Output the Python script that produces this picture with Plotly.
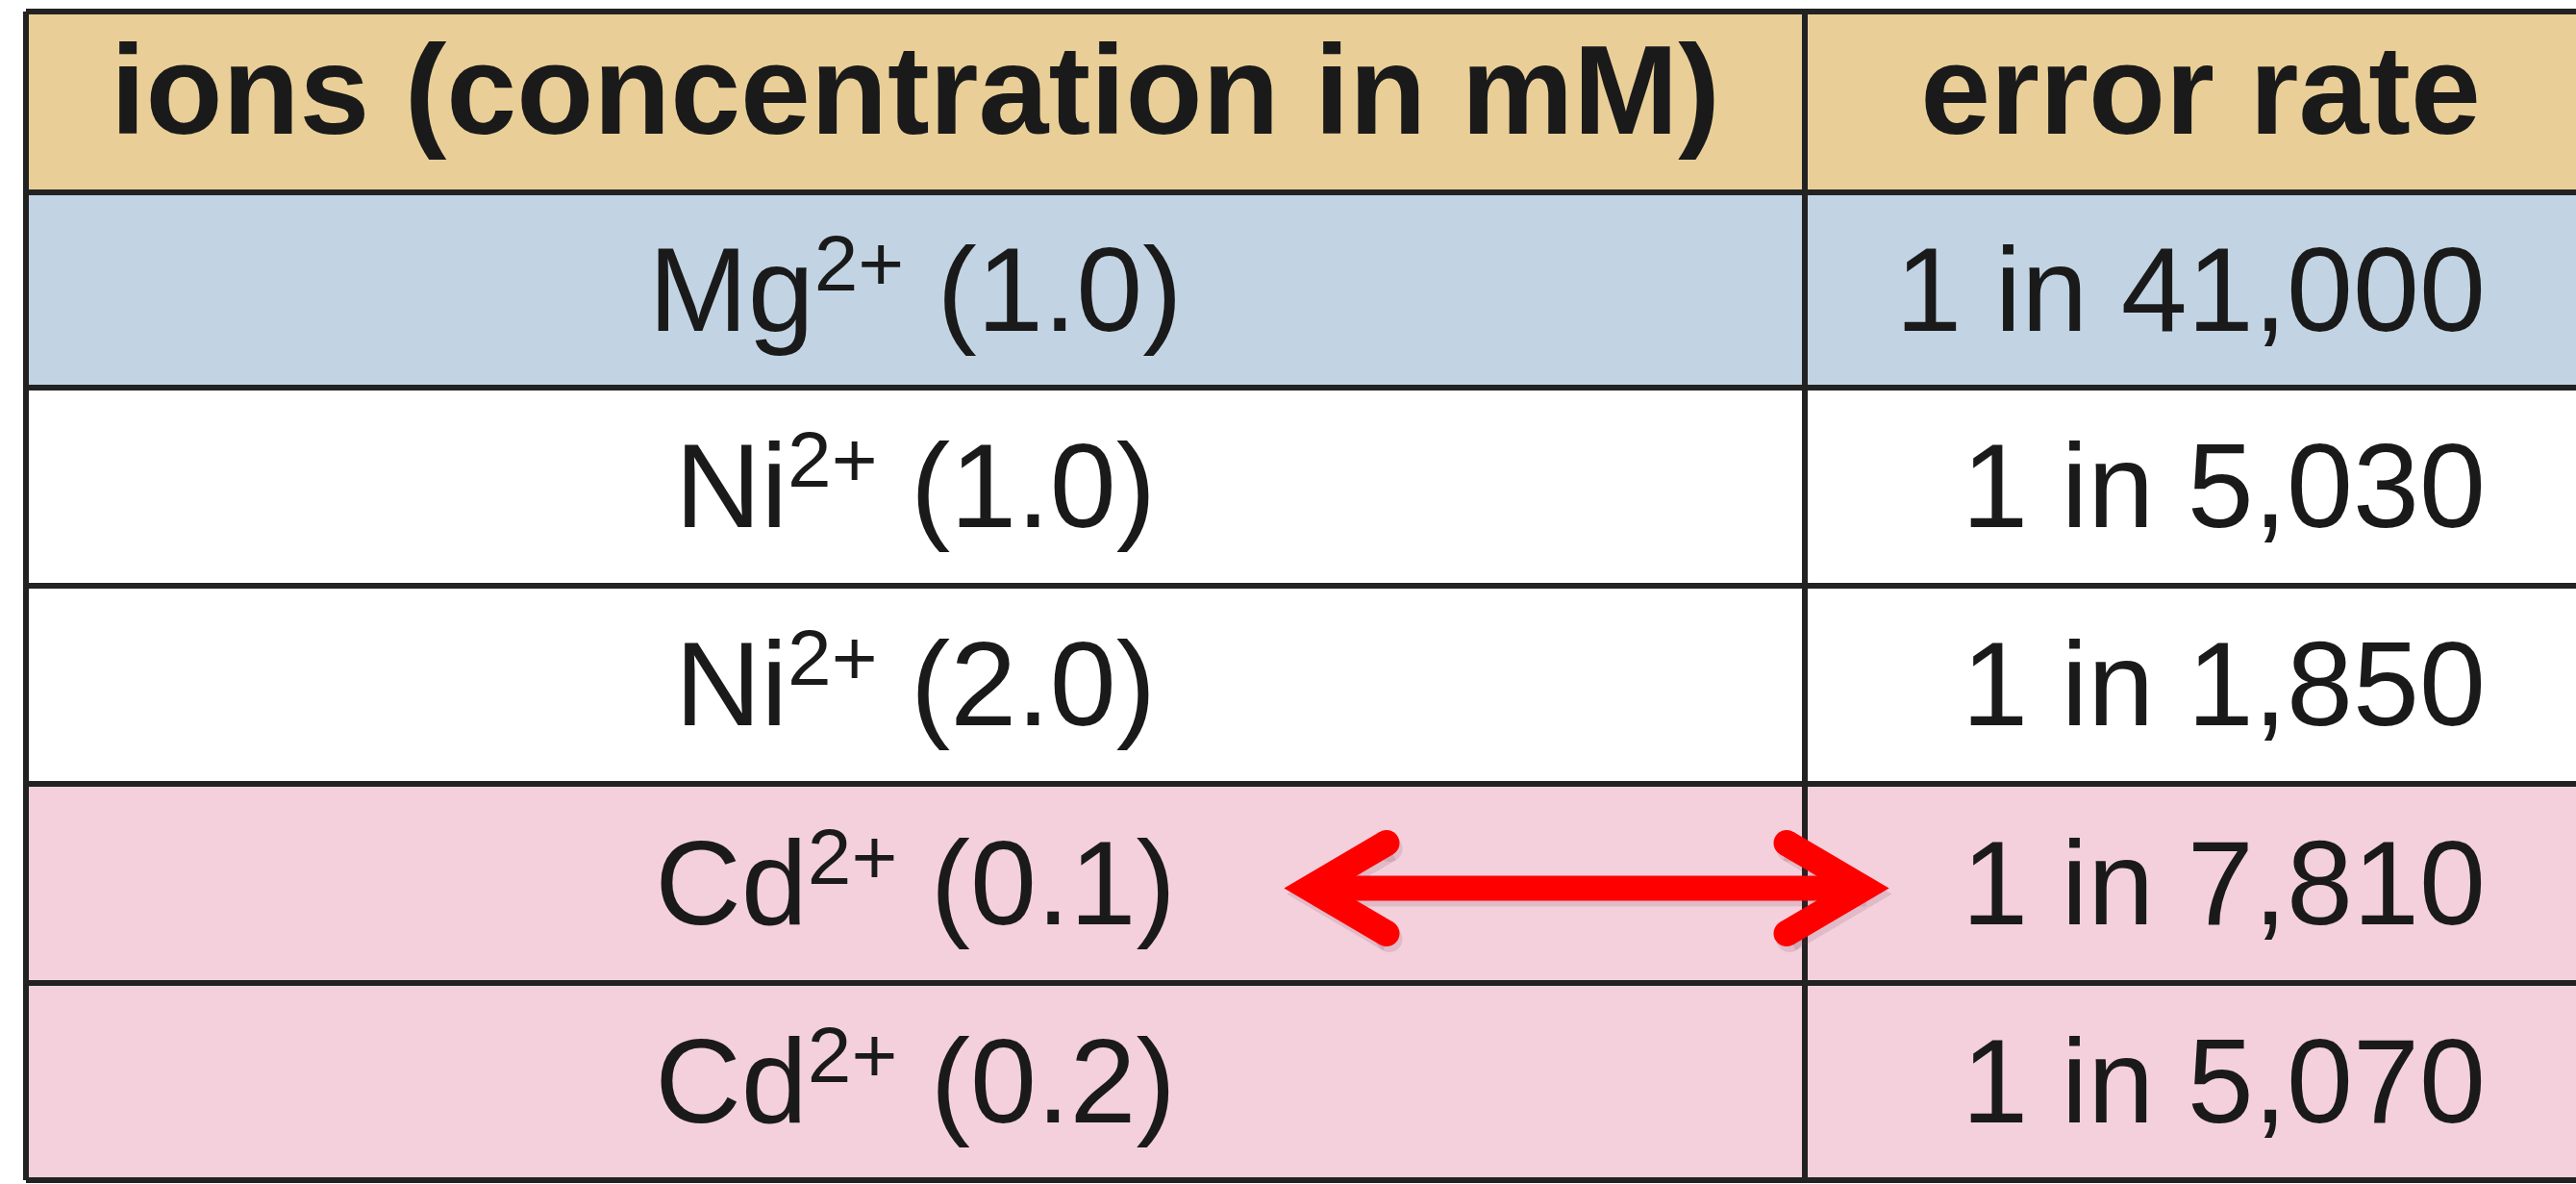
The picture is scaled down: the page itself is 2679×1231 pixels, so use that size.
import plotly.graph_objects as go

# ---------------- data ----------------
header_labels = ["ions (concentration in mM)", "error rate"]
ions = ["Mg", "Ni", "Ni", "Cd", "Cd"]
charges = ["2+", "2+", "2+", "2+", "2+"]
concentrations_mM = ["1.0", "1.0", "2.0", "0.1", "0.2"]
error_one_in = [41000, 5030, 1850, 7810, 5070]
row_groups = ["Mg", "Ni", "Ni", "Cd", "Cd"]
highlight_row = 3  # Cd2+ (0.1) row carries the double arrow

# ---------------- styling / layout constants ----------------
W, H = 2679, 1231
FONT = "Liberation Sans, Arial, Helvetica, sans-serif"
TEXT_COLOR = "#1a1a1a"
LINE_COLOR = "#222222"
LINE_W = 6
HEADER_FILL = "#E9CF97"
GROUP_FILL = {"Mg": "#C2D4E3", "Ni": "#FFFFFF", "Cd": "#F4D0DC"}
ARROW_RED = "#FF0000"

TABLE_LEFT, TABLE_TOP = 27, 12
COL_WIDTHS = [1850, 823]
HEADER_H = 188
ROW_HEIGHTS = [203, 206, 206, 207, 205]
HEADER_TEXT_SHIFT = 0
BODY_TEXT_SHIFT = 11
RIGHT_PAD = 115
HEADER_SIZE = 131
BODY_SIZE = 124
SUP_SIZE = 82
SUP_RISE = 42

# ---------------- derived geometry ----------------
x_edges = [TABLE_LEFT]
for w in COL_WIDTHS:
    x_edges.append(x_edges[-1] + w)
y_edges = [TABLE_TOP, TABLE_TOP + HEADER_H]
for h in ROW_HEIGHTS:
    y_edges.append(y_edges[-1] + h)

col_centers = [(x_edges[i] + x_edges[i + 1]) / 2 for i in range(2)]
row_centers = [(y_edges[i] + y_edges[i + 1]) / 2 for i in range(len(y_edges) - 1)]

# fill categories
palette = [HEADER_FILL, GROUP_FILL["Mg"], GROUP_FILL["Ni"], GROUP_FILL["Cd"]]
cat_index = {"header": 0, "Mg": 1, "Ni": 2, "Cd": 3}
z = [[cat_index["header"]] * 2] + [[cat_index[g]] * 2 for g in row_groups]
n = len(palette) - 1
colorscale = [[i / n, c] for i, c in enumerate(palette)]

fig = go.Figure()

fig.add_trace(go.Heatmap(
    z=z, x=x_edges, y=y_edges, zmin=0, zmax=n,
    colorscale=colorscale, showscale=False, hoverinfo="skip",
))

sup_style = f"font-size:{SUP_SIZE}px;baseline-shift:{SUP_RISE}px"
ion_labels = [f"{ion}<span style=\"{sup_style}\">{ch}</span> ({c})"
              for ion, ch, c in zip(ions, charges, concentrations_mM)]
rate_labels = [f"1 in {v:,}" for v in error_one_in]
body_y = [y + BODY_TEXT_SHIFT for y in row_centers[1:]]

# header text
fig.add_trace(go.Scatter(
    x=col_centers, y=[row_centers[0] + HEADER_TEXT_SHIFT] * 2,
    mode="text", text=[f"<b>{t}</b>" for t in header_labels],
    textposition="middle center",
    textfont=dict(family=FONT, size=HEADER_SIZE, color=TEXT_COLOR),
    hoverinfo="skip", showlegend=False,
))
# ion column
fig.add_trace(go.Scatter(
    x=[col_centers[0]] * len(ion_labels), y=body_y,
    mode="text", text=ion_labels, textposition="middle center",
    textfont=dict(family=FONT, size=BODY_SIZE, color=TEXT_COLOR),
    hoverinfo="skip", showlegend=False,
))
# error rate column (right aligned)
fig.add_trace(go.Scatter(
    x=[x_edges[2] - RIGHT_PAD] * len(rate_labels), y=body_y,
    mode="text", text=rate_labels, textposition="middle left",
    textfont=dict(family=FONT, size=BODY_SIZE, color=TEXT_COLOR),
    hoverinfo="skip", showlegend=False,
))

shapes = []
for ye in y_edges:
    shapes.append(dict(type="line", x0=x_edges[0], x1=x_edges[-1] + 50, y0=ye, y1=ye,
                       line=dict(color=LINE_COLOR, width=LINE_W), layer="above"))
for xe in x_edges[:2]:
    shapes.append(dict(type="line", x0=xe, x1=xe, y0=y_edges[0], y1=y_edges[-1],
                       line=dict(color=LINE_COLOR, width=LINE_W), layer="above"))

# double-headed red arrow in the Cd2+ (0.1) row
ay = row_centers[1 + highlight_row] + 5
tip_l, tip_r = 1362, 1938
wing_dx, wing_dy = 80, 47
shaft_w, head_w = 26, 27


def arrow_shapes(dx, dy, color):
    out = []
    out.append(dict(type="line", x0=tip_l + dx, x1=tip_r + dx, y0=ay + dy, y1=ay + dy,
                    line=dict(color=color, width=shaft_w), layer="above"))
    for tip, s in ((tip_l, 1), (tip_r, -1)):
        ex = tip + s * wing_dx
        path = (f"M {ex + dx} {ay - wing_dy + dy} L {tip + dx} {ay + dy} "
                f"L {ex + dx} {ay + wing_dy + dy}")
        out.append(dict(type="path", path=path, line=dict(color=color, width=head_w),
                        layer="above"))
        r = head_w / 2
        for sy in (-1, 1):
            cx, cy = ex + dx, ay + sy * wing_dy + dy
            out.append(dict(type="circle", x0=cx - r, x1=cx + r, y0=cy - r, y1=cy + r,
                            fillcolor=color, line=dict(width=0), layer="above"))
    return out


shapes += arrow_shapes(3, 6, "rgba(90,40,60,0.13)")
shapes += arrow_shapes(0, 0, ARROW_RED)

fig.update_layout(
    width=W, height=H,
    margin=dict(l=0, r=0, t=0, b=0),
    paper_bgcolor="white", plot_bgcolor="white",
    xaxis=dict(range=[0, W], visible=False, fixedrange=True),
    yaxis=dict(range=[H, 0], visible=False, fixedrange=True),
    shapes=shapes, showlegend=False,
)

fig.write_html("out.html", config={"displayModeBar": False},
               post_script="document.body.style.margin='0';")
